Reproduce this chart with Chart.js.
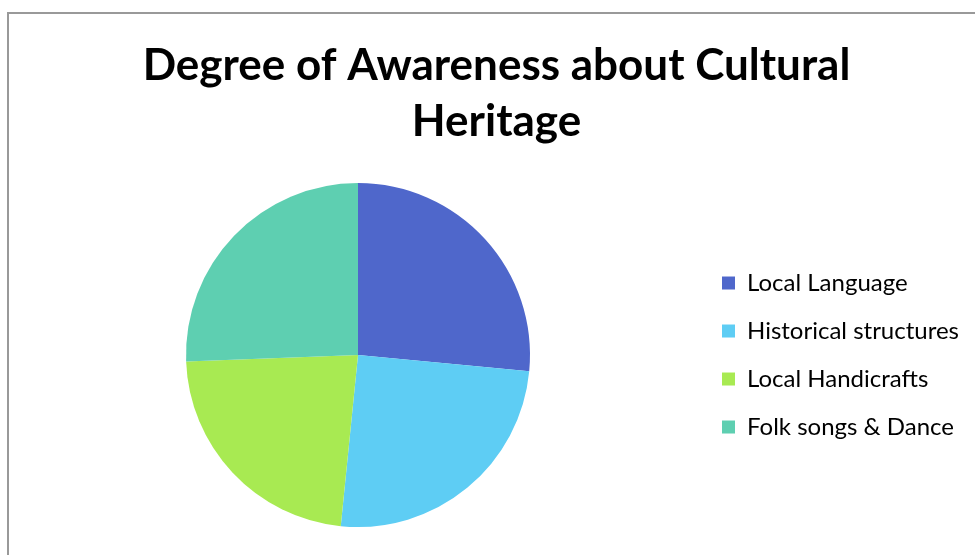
<!DOCTYPE html>
<html>
<head>
<meta charset="utf-8">
<script src="https://cdn.jsdelivr.net/npm/chart.js@4"></script>
<style>
  html, body { margin: 0; padding: 0; background: #fff; }
  #wrap { position: relative; width: 975px; height: 555px; overflow: hidden; }
  #frame { position: absolute; left: 7px; top: 12px; width: 1000px; height: 600px;
           border-left: 2px solid #999; border-top: 2px solid #999; }
  #chart { position: absolute; left: 0; top: 0; }
</style>
</head>
<body>
<div id="wrap">
  <div id="frame"></div>
  <canvas id="chart" width="975" height="555"></canvas>
</div>
<script>
const categories = ["Local Language", "Historical structures", "Local Handicrafts", "Folk songs & Dance"];
const awareness = [26.5, 25.1, 22.8, 25.6];
const sliceColors = ["#4F67CB", "#5ECDF4", "#A8EA52", "#5ECFB1"];

// keep the legend column a fixed width so the pie sits left of it
const legendWidth = {
  id: "legendWidth",
  afterInit(chart) {
    const fit = chart.legend.fit;
    chart.legend.fit = function () {
      fit.call(this);
      this.width = 277;
    };
  },
};

const ctx = document.getElementById("chart").getContext("2d");
new Chart(ctx, {
  type: "pie",
  data: {
    labels: categories,
    datasets: [{
      data: awareness,
      backgroundColor: sliceColors,
      borderWidth: 0,
    }],
  },
  options: {
    responsive: false,
    animation: false,
    layout: { padding: { left: 18, right: 0, top: 14, bottom: 28 } },
    plugins: {
      title: {
        display: true,
        text: ["Degree of Awareness about Cultural", "Heritage"],
        color: "#000",
        font: { family: "Lato", size: 44, weight: "bold", lineHeight: 1.273 },
        padding: { top: 24, bottom: 33 },
      },
      legend: {
        position: "right",
        fullSize: false,
        labels: {
          color: "#000",
          font: { family: "Lato", size: 24 },
          boxWidth: 13,
          boxHeight: 13,
          padding: 24,
        },
      },
      tooltip: { enabled: false },
    },
  },
  plugins: [legendWidth],
});
</script>
</body>
</html>
